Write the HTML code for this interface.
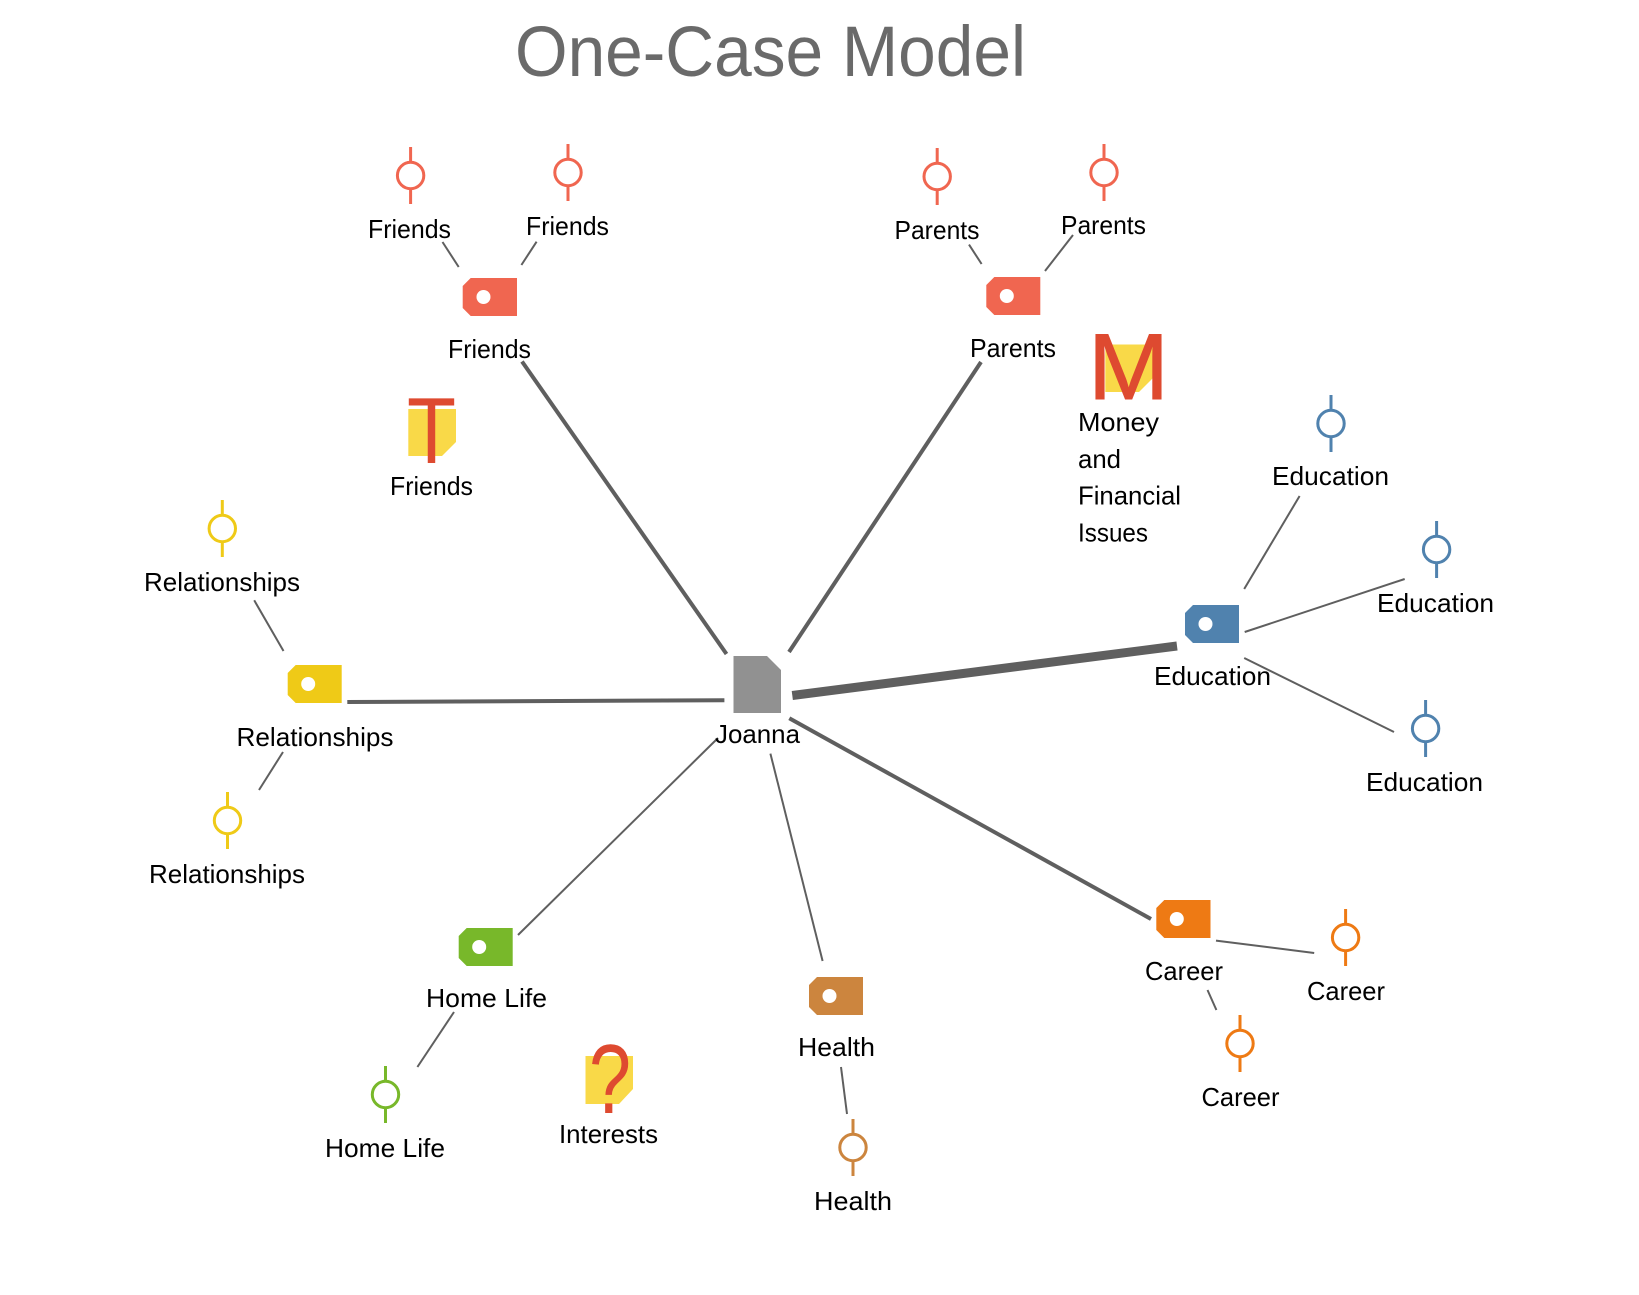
<!DOCTYPE html>
<html><head><meta charset="utf-8"><title>One-Case Model</title>
<style>html,body{margin:0;padding:0;background:#fff}svg{display:block}
text{font-family:"Liberation Sans",sans-serif;font-size:26px;fill:#000}
.c{stroke:#5f5f5f;fill:none}
.m{fill:#fff;stroke-width:3}
</style></head><body>
<svg xmlns="http://www.w3.org/2000/svg" width="1639" height="1295" viewBox="0 0 1639 1295">
<rect width="1639" height="1295" fill="#fff"/>
<text x="515" y="76" textLength="511" lengthAdjust="spacingAndGlyphs" style="font-size:71px;fill:#6a6a6a">One-Case Model</text>

<g class="c" stroke-width="4">
<line x1="522" y1="361.5" x2="726.5" y2="654"/>
<line x1="981" y1="362" x2="789" y2="652"/>
<line x1="347.3" y1="702" x2="724.4" y2="700.2"/>
<line x1="789.3" y1="718.3" x2="1151" y2="919"/>
</g>
<line class="c" stroke-width="9" x1="792.3" y1="695.5" x2="1177" y2="646"/>
<g class="c" stroke-width="2">
<line x1="518" y1="935" x2="718" y2="738"/>
<line x1="770.4" y1="753.6" x2="822.6" y2="961"/>
<line x1="442.5" y1="242" x2="458.7" y2="267"/>
<line x1="536.6" y1="241.7" x2="521.4" y2="265"/>
<line x1="969" y1="244.6" x2="981.6" y2="264"/>
<line x1="1073" y1="235" x2="1045" y2="271"/>
<line x1="1299.6" y1="496" x2="1244.2" y2="589"/>
<line x1="1404.7" y1="579" x2="1244.7" y2="632"/>
<line x1="1244.2" y1="658" x2="1394" y2="732"/>
<line x1="254.2" y1="600.3" x2="283.5" y2="651"/>
<line x1="283" y1="752" x2="259" y2="790"/>
<line x1="454" y1="1012" x2="417.4" y2="1067"/>
<line x1="841" y1="1067" x2="847" y2="1114"/>
<line x1="1216" y1="940.6" x2="1314.2" y2="953"/>
<line x1="1207.5" y1="990" x2="1216.4" y2="1010"/>
</g>

<polygon points="733.5,656 767,656 781,670 781,713 733.5,713" fill="#919191"/>

<polygon points="470.7,278 517,278 517,316 470.7,316 462.7,308 462.7,286" fill="#F06650"/>
<circle cx="483.5" cy="297" r="7" fill="#fff"/>
<polygon points="994.3,277 1040.3,277 1040.3,315 994.3,315 986.3,307 986.3,285" fill="#F06650"/>
<circle cx="1006.8" cy="296" r="7" fill="#fff"/>
<polygon points="1193,605 1239,605 1239,643 1193,643 1185,635 1185,613" fill="#5082AE"/>
<circle cx="1205.5" cy="624" r="7" fill="#fff"/>
<polygon points="295.7,665 341.7,665 341.7,703 295.7,703 287.7,695 287.7,673" fill="#EFCA17"/>
<circle cx="308.2" cy="684" r="7" fill="#fff"/>
<polygon points="466.7,928 512.7,928 512.7,966 466.7,966 458.7,958 458.7,936" fill="#78B82A"/>
<circle cx="479.2" cy="947" r="7" fill="#fff"/>
<polygon points="817,977 863,977 863,1015 817,1015 809,1007 809,985" fill="#CC853E"/>
<circle cx="829.5" cy="996" r="7" fill="#fff"/>
<polygon points="1164.3,900 1210.5,900 1210.5,938 1164.3,938 1156.3,930 1156.3,908" fill="#EE7A14"/>
<circle cx="1176.8" cy="919" r="7" fill="#fff"/>

<g stroke="#F06650" class="m"><path d="M410.6 147V161M410.6 189V204" fill="none"/><circle cx="410.6" cy="175.5" r="13.2"/></g>
<g stroke="#F06650" class="m"><path d="M568 144V158M568 186V201" fill="none"/><circle cx="568" cy="172.5" r="13.2"/></g>
<g stroke="#F06650" class="m"><path d="M937.2 148V162M937.2 190V205" fill="none"/><circle cx="937.2" cy="176.5" r="13.2"/></g>
<g stroke="#F06650" class="m"><path d="M1104 144V158M1104 186V201" fill="none"/><circle cx="1104" cy="172.5" r="13.2"/></g>
<g stroke="#5082AE" class="m"><path d="M1331 395V409M1331 437V452" fill="none"/><circle cx="1331" cy="423.5" r="13.2"/></g>
<g stroke="#5082AE" class="m"><path d="M1436.6 521V535M1436.6 563V578" fill="none"/><circle cx="1436.6" cy="549.5" r="13.2"/></g>
<g stroke="#5082AE" class="m"><path d="M1425.6 700V714M1425.6 742V757" fill="none"/><circle cx="1425.6" cy="728.5" r="13.2"/></g>
<g stroke="#EFCA17" class="m"><path d="M222.3 500V514M222.3 542V557" fill="none"/><circle cx="222.3" cy="528.5" r="13.2"/></g>
<g stroke="#EFCA17" class="m"><path d="M227.5 792V806M227.5 834V849" fill="none"/><circle cx="227.5" cy="820.5" r="13.2"/></g>
<g stroke="#78B82A" class="m"><path d="M385.5 1066V1080M385.5 1108V1123" fill="none"/><circle cx="385.5" cy="1094.5" r="13.2"/></g>
<g stroke="#CC853E" class="m"><path d="M853 1119V1133M853 1161V1176" fill="none"/><circle cx="853" cy="1147.5" r="13.2"/></g>
<g stroke="#EE7A14" class="m"><path d="M1345.6 909V923M1345.6 951V966" fill="none"/><circle cx="1345.6" cy="937.5" r="13.2"/></g>
<g stroke="#EE7A14" class="m"><path d="M1240 1015V1029M1240 1057V1072" fill="none"/><circle cx="1240" cy="1043.5" r="13.2"/></g>

<polygon points="408.3,409 456,409 456,442 442,456 408.3,456" fill="#F9D948"/>
<polygon points="1105.3,344.5 1153,344.5 1153,378 1139,392 1105.3,392" fill="#F9D948"/>
<polygon points="585.5,1056 633,1056 633,1089 619,1104 585.5,1104" fill="#F9D948"/>
<text x="407" y="463" textLength="49" lengthAdjust="spacingAndGlyphs" style="font-size:94px;fill:#DE4A30">T</text>
<text x="1088" y="399" textLength="81" lengthAdjust="spacingAndGlyphs" style="font-size:94px;fill:#DE4A30;stroke:#DE4A30;stroke-width:1">M</text>
<text x="589" y="1113" textLength="42" lengthAdjust="spacingAndGlyphs" style="font-size:98px;fill:#DE4A30">?</text>

<text x="368" y="238" textLength="83" lengthAdjust="spacingAndGlyphs">Friends</text>
<text x="526" y="235" textLength="83" lengthAdjust="spacingAndGlyphs">Friends</text>
<text x="448" y="358" textLength="83" lengthAdjust="spacingAndGlyphs">Friends</text>
<text x="390" y="495" textLength="83" lengthAdjust="spacingAndGlyphs">Friends</text>
<text x="144" y="591" textLength="156" lengthAdjust="spacingAndGlyphs">Relationships</text>
<text x="236.5" y="746" textLength="157" lengthAdjust="spacingAndGlyphs">Relationships</text>
<text x="149" y="883" textLength="156" lengthAdjust="spacingAndGlyphs">Relationships</text>
<text x="894.5" y="239" textLength="85" lengthAdjust="spacingAndGlyphs">Parents</text>
<text x="1061" y="234" textLength="85" lengthAdjust="spacingAndGlyphs">Parents</text>
<text x="970" y="357" textLength="86" lengthAdjust="spacingAndGlyphs">Parents</text>
<text x="1078" y="431" textLength="81" lengthAdjust="spacingAndGlyphs">Money</text>
<text x="1078" y="468" textLength="43" lengthAdjust="spacingAndGlyphs">and</text>
<text x="1078" y="504.5" textLength="103" lengthAdjust="spacingAndGlyphs">Financial</text>
<text x="1078" y="541.5" textLength="70" lengthAdjust="spacingAndGlyphs">Issues</text>
<text x="1272" y="485" textLength="117" lengthAdjust="spacingAndGlyphs">Education</text>
<text x="1377" y="612" textLength="117" lengthAdjust="spacingAndGlyphs">Education</text>
<text x="1154" y="685" textLength="117" lengthAdjust="spacingAndGlyphs">Education</text>
<text x="1366" y="791" textLength="117" lengthAdjust="spacingAndGlyphs">Education</text>
<text x="715" y="743" textLength="85" lengthAdjust="spacingAndGlyphs">Joanna</text>
<text x="426" y="1007" textLength="121" lengthAdjust="spacingAndGlyphs">Home Life</text>
<text x="325" y="1157" textLength="120" lengthAdjust="spacingAndGlyphs">Home Life</text>
<text x="559" y="1143" textLength="99" lengthAdjust="spacingAndGlyphs">Interests</text>
<text x="798" y="1056" textLength="77" lengthAdjust="spacingAndGlyphs">Health</text>
<text x="814" y="1210" textLength="78" lengthAdjust="spacingAndGlyphs">Health</text>
<text x="1145" y="980" textLength="78" lengthAdjust="spacingAndGlyphs">Career</text>
<text x="1307" y="1000" textLength="78" lengthAdjust="spacingAndGlyphs">Career</text>
<text x="1201.5" y="1106" textLength="78" lengthAdjust="spacingAndGlyphs">Career</text>
</svg>
</body></html>
